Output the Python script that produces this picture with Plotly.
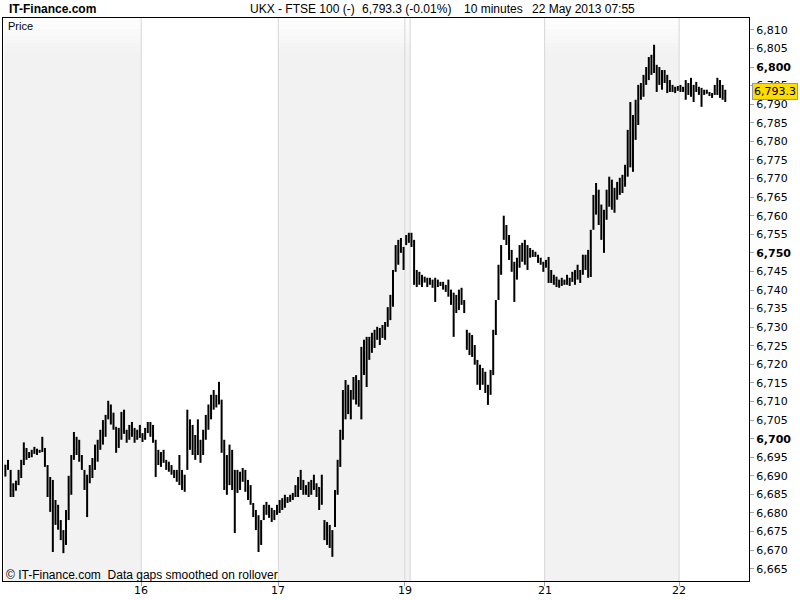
import plotly.graph_objects as go

# FTSE 100 (UKX), 10-minute high/low bars, 15-22 May 2013
day_labels = ["15", "16", "17", "19", "20", "21", "22"]
shaded_days = ["15", "17", "19", "21"]
tick_days = ["16", "17", "19", "21", "22"]

high_15 = [6693.0, 6694.3, 6691.6, 6688.0, 6688.7, 6691.6, 6694.3, 6699.0, 6697.5, 6696.4,
           6697.0, 6697.8, 6697.3, 6697.0, 6700.5, 6697.5, 6692.9, 6689.7, 6688.9, 6683.5,
           6682.2, 6678.1, 6675.4, 6680.8, 6690.0, 6695.6, 6701.8, 6700.5, 6699.7, 6695.6,
           6691.6, 6690.3, 6692.9, 6694.8, 6698.4, 6699.7, 6702.4, 6705.0, 6706.4, 6710.2,
           6709.2, 6707.0, 6703.2, 6702.9, 6707.2, 6707.8, 6702.4, 6703.7, 6704.5, 6702.9,
           6702.4, 6703.7]
low_15 = [6689.8, 6691.6, 6684.3, 6684.3, 6686.0, 6687.5, 6689.4, 6692.9, 6694.3, 6694.8,
          6695.0, 6695.9, 6695.6, 6696.2, 6696.4, 6692.4, 6684.3, 6680.3, 6669.5, 6676.8,
          6675.5, 6672.7, 6669.2, 6671.4, 6678.1, 6684.9, 6694.3, 6695.6, 6693.8, 6691.6,
          6686.2, 6678.9, 6688.0, 6689.4, 6691.6, 6693.8, 6697.0, 6698.4, 6700.5, 6705.2,
          6703.8, 6702.4, 6696.2, 6697.5, 6699.7, 6701.3, 6698.9, 6699.7, 6700.5, 6698.9,
          6699.7, 6700.2]

high_16 = [6701.5, 6702.9, 6704.5, 6704.5, 6703.7, 6699.7, 6697.0, 6696.4, 6697.0, 6694.3,
           6693.8, 6692.9, 6691.6, 6691.6, 6695.6, 6691.6, 6690.3, 6707.8, 6705.2, 6703.7,
           6701.0, 6705.2, 6699.7, 6702.4, 6706.4, 6709.2, 6711.8, 6713.1, 6711.8, 6715.3,
           6710.5, 6699.7, 6695.6, 6698.4, 6697.0, 6691.6, 6691.6, 6691.1, 6692.1, 6691.6,
           6688.9, 6687.5, 6682.7, 6680.8, 6679.4, 6678.1, 6682.2, 6683.0, 6682.2, 6681.4,
           6680.8, 6682.2]
low_16 = [6699.1, 6699.7, 6701.5, 6700.5, 6698.9, 6689.7, 6692.9, 6692.4, 6693.5, 6691.6,
          6691.1, 6690.3, 6689.4, 6688.4, 6687.5, 6686.2, 6685.7, 6691.6, 6697.0, 6695.6,
          6694.3, 6695.6, 6693.5, 6695.6, 6699.7, 6702.4, 6705.2, 6707.8, 6708.4, 6709.2,
          6696.2, 6686.2, 6684.9, 6687.5, 6686.2, 6674.6, 6685.4, 6686.2, 6688.4, 6685.7,
          6683.5, 6682.2, 6678.9, 6675.4, 6669.5, 6671.4, 6678.1, 6679.5, 6678.7, 6677.6,
          6678.1, 6679.5]

high_17 = [6683.5, 6684.0, 6684.9, 6684.3, 6684.9, 6685.4, 6687.5, 6689.7, 6691.6, 6688.9,
           6687.5, 6688.4, 6688.9, 6690.3, 6688.0, 6687.0, 6690.3, 6678.1, 6677.6, 6676.8,
           6675.4, 6686.2, 6694.3, 6702.4, 6713.1, 6715.8, 6714.5, 6713.1, 6716.6, 6717.1,
           6715.8, 6724.7, 6726.6, 6727.4, 6727.4, 6728.5, 6729.3, 6730.1, 6729.8, 6730.6,
           6731.4, 6735.4, 6738.7, 6745.4, 6752.1, 6753.5, 6754.0, 6751.6]
low_17 = [6680.0, 6680.8, 6681.4, 6682.7, 6683.0, 6683.5, 6684.3, 6684.3, 6686.2, 6684.9,
          6684.9, 6684.3, 6684.9, 6686.2, 6684.3, 6680.8, 6682.2, 6672.7, 6671.4, 6670.6,
          6668.2, 6676.2, 6684.9, 6692.4, 6699.7, 6705.2, 6706.6, 6705.2, 6710.5, 6709.2,
          6708.6, 6705.2, 6717.1, 6713.9, 6721.2, 6723.1, 6724.4, 6726.6, 6725.2, 6727.1,
          6726.6, 6730.1, 6731.9, 6735.5, 6744.9, 6746.8, 6750.0, 6745.4]

high_19 = [6754.8, 6755.4]
low_19 = [6752.1, 6752.7]

high_20 = [6755.4, 6753.5, 6745.4, 6744.9, 6744.1, 6743.6, 6743.3, 6743.3, 6742.8, 6743.3,
           6742.8, 6742.2, 6742.2, 6741.4, 6742.8, 6740.1, 6739.3, 6738.7, 6740.1, 6740.6,
           6737.3, 6729.3, 6728.5, 6727.9, 6725.2, 6721.2, 6719.9, 6719.0, 6718.0, 6714.5,
           6718.5, 6729.3, 6737.3, 6746.8, 6752.1, 6760.0, 6757.5, 6754.8, 6750.8, 6747.6,
           6748.7, 6752.1, 6752.7, 6753.5, 6752.1, 6751.3, 6750.8, 6750.3, 6749.5, 6748.7,
           6747.6]
low_20 = [6751.6, 6741.4, 6740.8, 6741.4, 6740.8, 6742.0, 6740.8, 6741.4, 6740.6, 6736.8,
          6740.8, 6741.1, 6740.1, 6739.5, 6738.2, 6736.0, 6727.4, 6733.8, 6734.6, 6736.0,
          6733.8, 6723.9, 6722.5, 6722.0, 6719.9, 6714.5, 6713.1, 6714.5, 6712.3, 6709.1,
          6711.8, 6717.1, 6727.9, 6737.3, 6744.1, 6753.5, 6752.1, 6748.1, 6744.9, 6736.8,
          6742.8, 6746.0, 6747.6, 6746.8, 6745.4, 6748.7, 6748.9, 6748.9, 6747.3, 6746.8,
          6744.9]

high_21 = [6748.1, 6748.9, 6745.4, 6744.1, 6743.6, 6742.8, 6743.3, 6742.8, 6744.1, 6743.3,
           6744.9, 6745.4, 6746.8, 6745.4, 6749.5, 6749.5, 6750.8, 6756.2, 6765.6, 6768.8,
           6767.0, 6763.0, 6761.6, 6767.0, 6770.5, 6769.7, 6767.5, 6769.1, 6770.2, 6771.0,
           6773.7, 6783.1, 6790.6, 6787.1, 6791.2, 6795.2, 6795.7, 6797.9, 6800.0, 6802.7,
           6803.3, 6806.0, 6800.6, 6800.0, 6799.2, 6799.2, 6797.9, 6796.5, 6795.2, 6794.7,
           6794.9]
low_21 = [6746.0, 6741.9, 6741.9, 6741.4, 6740.8, 6740.6, 6741.1, 6741.4, 6741.4, 6741.1,
          6742.2, 6741.4, 6742.8, 6741.9, 6744.1, 6745.4, 6743.3, 6743.5, 6756.2, 6760.3,
          6757.5, 6753.5, 6750.0, 6758.9, 6762.4, 6761.6, 6760.8, 6764.3, 6765.6, 6766.1,
          6767.8, 6770.5, 6773.0, 6771.8, 6780.4, 6784.4, 6791.2, 6792.0, 6795.2, 6796.5,
          6797.9, 6798.4, 6793.3, 6795.2, 6793.9, 6795.7, 6793.0, 6793.3, 6793.3, 6793.0,
          6793.6]

high_22 = [6795.2, 6794.7, 6796.5, 6795.7, 6797.1, 6795.2, 6796.0, 6794.7, 6794.4, 6793.9,
           6793.9, 6793.3, 6793.0, 6795.2, 6797.1, 6796.5, 6795.2, 6793.9]
low_22 = [6793.3, 6793.3, 6791.2, 6792.5, 6792.0, 6790.6, 6793.3, 6792.5, 6789.3, 6792.5,
          6792.8, 6792.2, 6791.7, 6792.5, 6792.5, 6791.7, 6791.2, 6790.6]

last_price = 6793.3
price_ticks = list(range(6665, 6811, 5))
bold_ticks = [6700, 6750, 6800]

highs = [high_15, high_16, high_17, high_19, high_20, high_21, high_22]
lows = [low_15, low_16, low_17, low_19, low_20, low_21, low_22]

# one vertical segment per bar, days laid end to end (no time gaps)
xs, ys, day_start = [], [], []
i = 0
for h_day, l_day in zip(highs, lows):
    day_start.append(i)
    for h, l in zip(h_day, l_day):
        xs += [i, i, None]
        ys += [l, h, None]
        i += 1
n_bars = i
x_min, x_max = -0.9, n_bars + 8

fig = go.Figure(go.Scatter(
    x=xs, y=ys, mode="lines",
    line=dict(color="black", width=2),
    hoverinfo="skip",
))

shapes = []
for k, (d, s) in enumerate(zip(day_labels, day_start)):
    if d in shaded_days:
        end = day_start[k + 1] - 0.5
        shapes.append(dict(type="rect", xref="x", yref="paper",
                           x0=max(s - 0.5, x_min), x1=end, y0=0, y1=1,
                           fillcolor="#f2f2f2", line_width=0, layer="below"))
# soft white fade at the top of the shaded bands
steps = 10
for k in range(steps):
    shapes.append(dict(type="rect", xref="paper", yref="paper",
                       x0=0, x1=1, y0=1 - (k + 1) * 0.0065, y1=1 - k * 0.0065,
                       fillcolor="white", opacity=0.9 * (1 - k / steps),
                       line_width=0, layer="below"))
for s in day_start[1:]:
    shapes.append(dict(type="line", xref="x", yref="paper",
                       x0=s - 0.5, x1=s - 0.5, y0=0, y1=1,
                       line=dict(color="#d6d6d6", width=1), layer="below"))

tick_pos = [day_start[day_labels.index(d)] - 0.5 for d in tick_days]
tick_txt = [f"<b>{v:,}</b>" if v in bold_ticks else f"{v:,}" for v in price_ticks]

fig.update_layout(
    width=800, height=600,
    margin=dict(l=3, r=51, t=18, b=19, autoexpand=False),
    paper_bgcolor="white", plot_bgcolor="white",
    showlegend=False,
    font=dict(family="DejaVu Sans, Verdana, sans-serif", size=11, color="black"),
    shapes=shapes,
)
fig.update_xaxes(range=[x_min, x_max], showgrid=False, zeroline=False, automargin=False,
                 showline=True, mirror=True, linecolor="black", linewidth=1,
                 ticks="outside", ticklen=4, tickcolor="#9aa4b0",
                 tickvals=tick_pos, ticktext=[""] * len(tick_pos))
fig.update_yaxes(range=[6661.7, 6813.2], side="right", showgrid=False, zeroline=False,
                 automargin=False,
                 showline=True, mirror=True, linecolor="black", linewidth=1,
                 ticks="outside", ticklen=4, tickcolor="#9aa4b0",
                 tickvals=price_ticks, ticktext=tick_txt)

# day labels under the axis (placed by hand so they sit a bit higher than plotly's)
for pos, d in zip(tick_pos, tick_days):
    fig.add_annotation(x=pos, y=-0.017, xref="x", yref="paper", text=d,
                       showarrow=False, xanchor="center", yanchor="middle",
                       font=dict(family="DejaVu Sans, Verdana", size=11))

title_font = dict(family="Liberation Sans, Arial", size=12, color="black")
notes = [
    (0.0055, "<b>IT-Finance.com</b>"),
    (0.3284, "UKX - FTSE 100 (-)"),
    (0.4786, "6,793.3 (-0.01%)"),
    (0.6153, "10 minutes"),
    (0.7064, "22 May 2013 07:55"),
]
for xp, txt in notes:
    fig.add_annotation(x=xp, y=1.016, xref="paper", yref="paper", text=txt,
                       showarrow=False, xanchor="left", yanchor="middle", font=title_font)

fig.add_annotation(x=0.004, y=0.986, xref="paper", yref="paper", text="Price",
                   showarrow=False, xanchor="left", yanchor="middle",
                   font=dict(family="Liberation Sans, Arial", size=11))
fig.add_annotation(x=0.002, y=0.011, xref="paper", yref="paper",
                   text="© IT-Finance.com  Data gaps smoothed on rollover",
                   showarrow=False, xanchor="left", yanchor="middle",
                   font=dict(family="Liberation Sans, Arial", size=12))
fig.add_annotation(x=1.004, y=last_price, xref="paper", yref="y",
                   text=f"{last_price:,.1f}", showarrow=False,
                   xanchor="left", yanchor="middle",
                   bgcolor="#ffdd00", bordercolor="#8a9bb0", borderwidth=1, borderpad=1,
                   font=dict(family="DejaVu Sans, Verdana", size=11, color="black"))

# the page's default body margin would shift the figure by 8px
fig.write_html("out.html", config={"displayModeBar": False},
               post_script="document.body.style.margin='0px';")
